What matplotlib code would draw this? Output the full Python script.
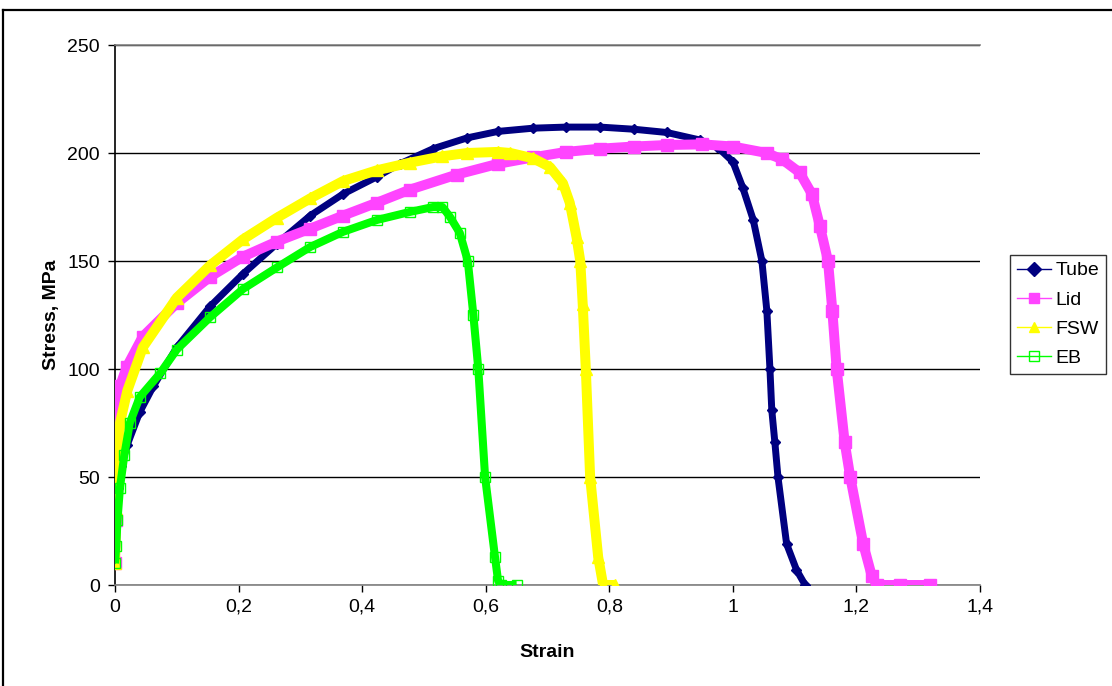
import matplotlib
matplotlib.use("Agg")
import matplotlib.pyplot as plt
from matplotlib.lines import Line2D

plt.rcParams['font.family'] = ['Liberation Sans', 'DejaVu Sans']

# ---- data ----
tube_strain = [0, 0.002, 0.005, 0.01, 0.02, 0.04, 0.062, 0.1, 0.154, 0.207, 0.262, 0.316,
               0.369, 0.424, 0.461, 0.515, 0.57, 0.62, 0.677, 0.73, 0.785, 0.84, 0.893,
               0.947, 0.974, 1.0, 1.016, 1.033, 1.047, 1.055, 1.06, 1.063, 1.068, 1.073,
               1.087, 1.103, 1.117]
tube_stress = [10, 30, 45, 55, 65, 80, 92, 110, 129, 144, 158, 171,
               181, 189, 195, 202, 207, 210, 211.5, 212, 212, 211, 209.5,
               206, 203, 196, 184, 169, 150, 127, 100, 81, 66, 50,
               19, 7, 0]

lid_strain = [0, 0.001, 0.002, 0.003, 0.008, 0.019, 0.045, 0.1, 0.154, 0.207, 0.262, 0.316,
              0.369, 0.424, 0.477, 0.553, 0.62, 0.677, 0.73, 0.785, 0.84, 0.893, 0.95,
              1.0, 1.055, 1.08, 1.108, 1.128, 1.141, 1.154, 1.161, 1.168, 1.181, 1.19,
              1.211, 1.225, 1.233, 1.27, 1.319]
lid_stress = [10, 30, 55, 82, 92, 101, 115, 130.5, 142.7, 152, 159, 165,
              171, 177, 183, 190, 195, 198, 200.5, 202, 203, 203.7, 204,
              203, 200, 197, 191, 181, 166, 150, 127, 100, 66, 50,
              19, 4, 0, 0, 0]

fsw_strain = [0, 0.002, 0.004, 0.008, 0.02, 0.045, 0.1, 0.154, 0.207, 0.262, 0.316, 0.369,
              0.424, 0.477, 0.53, 0.57, 0.62, 0.64, 0.677, 0.704, 0.725, 0.736, 0.747,
              0.753, 0.757, 0.762, 0.769, 0.782, 0.79, 0.81]
fsw_stress = [10, 35, 60, 75, 90, 110, 133, 148, 160, 170, 179, 187,
              192, 195.5, 198.5, 200, 200.5, 200, 197.5, 193.5, 186, 177, 161,
              150, 130, 100, 50, 13, 0, 0]

eb_strain = [0, 0.002, 0.004, 0.008, 0.015, 0.024, 0.04, 0.073, 0.1, 0.154, 0.207, 0.262,
             0.316, 0.369, 0.424, 0.477, 0.515, 0.53, 0.542, 0.558, 0.571, 0.58, 0.588,
             0.599, 0.615, 0.62, 0.625, 0.65]
eb_stress = [10, 18, 30, 45, 60, 75, 87, 98, 109, 124, 137, 147,
             156.5, 163.5, 169, 172.7, 175, 175, 170.5, 163, 150, 125, 100,
             50, 13, 2, 0, 0]

x_ticks = [0, 0.2, 0.4, 0.6, 0.8, 1.0, 1.2, 1.4]
x_tick_labels = ['0', '0,2', '0,4', '0,6', '0,8', '1', '1,2', '1,4']
y_ticks = [0, 50, 100, 150, 200, 250]

# ---- figure ----
fig = plt.figure(figsize=(11.12, 6.86), dpi=100)
ax = fig.add_axes([115/1112, 1-585/686, (980-115)/1112, (585-45)/686])

# outer chart border
fig.add_artist(Line2D([3/1112, 3/1112], [0, 1-10/686], transform=fig.transFigure,
                      color='black', lw=1.6))
fig.add_artist(Line2D([3/1112, 1], [1-10/686, 1-10/686], transform=fig.transFigure,
                      color='black', lw=1.6))

series = [
    ('Tube', tube_strain, tube_stress, '#000080', 'D', '#000080', '#000080', 5, 5.0),
    ('Lid', lid_strain, lid_stress, '#FF44FF', 's', '#FF44FF', '#FF44FF', 8, 7.2),
    ('FSW', fsw_strain, fsw_stress, '#FFFF00', '^', '#FFFF00', '#FFFF00', 8, 7.2),
    ('EB', eb_strain, eb_stress, '#00FF00', 's', 'none', '#00FF00', 6.5, 5.8),
]

handles = []
for name, xs, ys, col, mk, mfc, mec, ms, bw in series:
    ax.plot(xs, ys, color=col, lw=bw, solid_capstyle='butt', zorder=3)
    ax.plot(xs, ys, color=col, lw=1, marker=mk, markerfacecolor=mfc,
            markeredgecolor=mec, markersize=ms, zorder=3)
    handles.append(Line2D([], [], color=col, lw=1, marker=mk, markerfacecolor=mfc,
                          markeredgecolor=mec, markersize=7, label=name))

ax.set_xlim(0, 1.4)
ax.set_ylim(0, 250)
ax.set_xticks(x_ticks)
ax.set_xticklabels(x_tick_labels)
ax.set_yticks(y_ticks)
ax.set_yticklabels([str(v) for v in y_ticks])
ax.tick_params(axis='both', direction='out', length=5, width=1, labelsize=14,
               colors='black')
ax.tick_params(axis='x', pad=5)
ax.tick_params(axis='y', pad=6)

ax.grid(axis='y', color='black', lw=1)
ax.set_axisbelow(True)
ax.spines['right'].set_visible(False)
ax.spines['top'].set_color('#808080')
ax.spines['bottom'].set_color('#808080')
ax.spines['left'].set_color('black')
for s in ax.spines.values():
    s.set_linewidth(1.2)

ax.set_xlabel('Strain', fontsize=14, fontweight='bold', labelpad=20)
ax.set_ylabel('Stress, MPa', fontsize=14, fontweight='bold', labelpad=5)

leg = fig.legend(handles=handles, loc='upper left',
                 bbox_to_anchor=(1010/1112, 1-255/686), fontsize=14,
                 frameon=True, fancybox=False, shadow=False, borderpad=0.35,
                 handlelength=1.75, handletextpad=0.25, labelspacing=0.6,
                 borderaxespad=0)
leg.get_frame().set_edgecolor('black')
leg.get_frame().set_linewidth(1)

fig.savefig('out.png', dpi=100)
